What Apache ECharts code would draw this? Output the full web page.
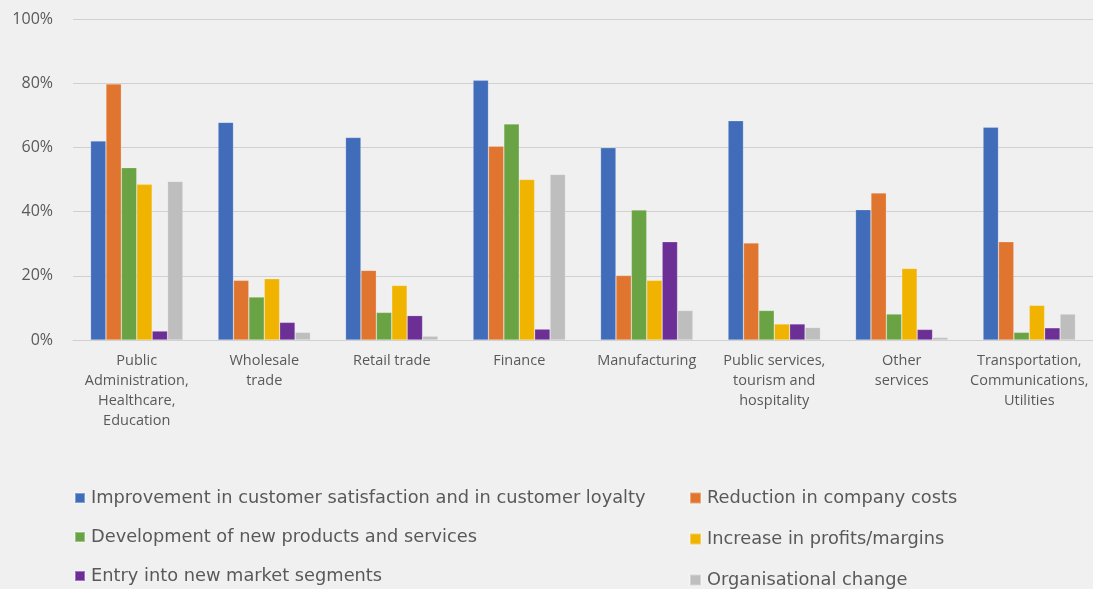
<!DOCTYPE html>
<html>
<head>
<meta charset="utf-8">
<script src="https://cdn.jsdelivr.net/npm/echarts@6/dist/echarts.min.js"></script>
<style>
  html, body { margin: 0; padding: 0; background: #f0f0f0; }
  #chart { width: 1093px; height: 589px; }
</style>
</head>
<body>
<div id="chart"></div>
<script>
// categories (line breaks as shown under the axis)
var categories = [
  'Public\nAdministration,\nHealthcare,\nEducation',
  'Wholesale\ntrade',
  'Retail trade',
  'Finance',
  'Manufacturing',
  'Public services,\ntourism and\nhospitality',
  'Other\nservices',
  'Transportation,\nCommunications,\nUtilities'
];

var seriesNames = [
  'Improvement in customer satisfaction and in customer loyalty',
  'Reduction in company costs',
  'Development of new products and services',
  'Increase in profits/margins',
  'Entry into new market segments',
  'Organisational change'
];

// values in %
var satisfaction = [62.0, 67.8, 63.1, 80.9, 59.9, 68.3, 40.6, 66.3];
var costs        = [79.8, 18.6, 21.7, 60.4, 20.1, 30.2, 45.8, 30.6];
var newProducts  = [53.7, 13.4, 8.6, 67.3, 40.5, 9.2, 8.1, 2.4];
var profits      = [48.5, 19.1, 17.0, 50.0, 18.6, 5.0, 22.3, 10.8];
var newMarkets   = [2.8, 5.5, 7.6, 3.4, 30.6, 5.0, 3.3, 3.8];
var orgChange    = [49.4, 2.4, 1.2, 51.6, 9.2, 3.9, 0.8, 8.1];

var yTicks = [0, 20, 40, 60, 80, 100];

var colors = ['#406cba', '#e0752f', '#6aa343', '#f0b400', '#6b2f96', '#bebebe'];
var allData = [satisfaction, costs, newProducts, profits, newMarkets, orgChange];

var chart = echarts.init(document.getElementById('chart'));

var series = [];
for (var i = 0; i < seriesNames.length; i++) {
  series.push({
    name: seriesNames[i],
    type: 'bar',
    data: allData[i],
    barWidth: 15.4,
    barGap: '0%',
    itemStyle: {
      color: colors[i],
      borderColor: 'rgba(255,255,255,0.35)',
      borderWidth: 0.6
    }
  });
}

var legendText = {
  color: '#595959',
  fontSize: 17.8,
  fontFamily: 'DejaVu Sans',
  padding: [0, 0, 0, 1]
};

var option = {
  backgroundColor: '#f0f0f0',
  color: colors,
  animation: false,
  grid: {
    left: 73,
    top: 19,
    width: 1024,
    height: 321
  },
  legend: [{
    orient: 'vertical',
    left: 74,
    top: 489,
    height: 110,
    padding: 0,
    itemWidth: 10,
    itemHeight: 10,
    itemGap: 21,
    icon: 'rect',
    textStyle: legendText,
    data: [seriesNames[0], seriesNames[2], seriesNames[4]]
  }, {
    orient: 'vertical',
    left: 689,
    top: 489,
    height: 110,
    padding: 0,
    itemWidth: 11,
    itemHeight: 11,
    itemGap: 23,
    icon: 'rect',
    textStyle: legendText,
    data: [seriesNames[1], seriesNames[3], seriesNames[5]]
  }],
  xAxis: {
    type: 'category',
    data: categories,
    axisTick: { show: false },
    axisLine: { lineStyle: { color: '#d0d0d0', width: 1.2 } },
    axisLabel: {
      color: '#595959',
      fontSize: 14.5,
      fontFamily: 'Open Sans',
      lineHeight: 20,
      margin: 11,
      interval: 0
    }
  },
  yAxis: {
    type: 'value',
    min: yTicks[0],
    max: yTicks[yTicks.length - 1],
    interval: 20,
    axisLine: { show: false },
    axisTick: { show: false },
    splitLine: { lineStyle: { color: '#d0d0d0', width: 1.2 } },
    axisLabel: {
      color: '#595959',
      fontSize: 16,
      fontFamily: 'Open Sans',
      margin: 20,
      formatter: '{value}%'
    }
  },
  series: series
};

chart.setOption(option);
</script>
</body>
</html>
